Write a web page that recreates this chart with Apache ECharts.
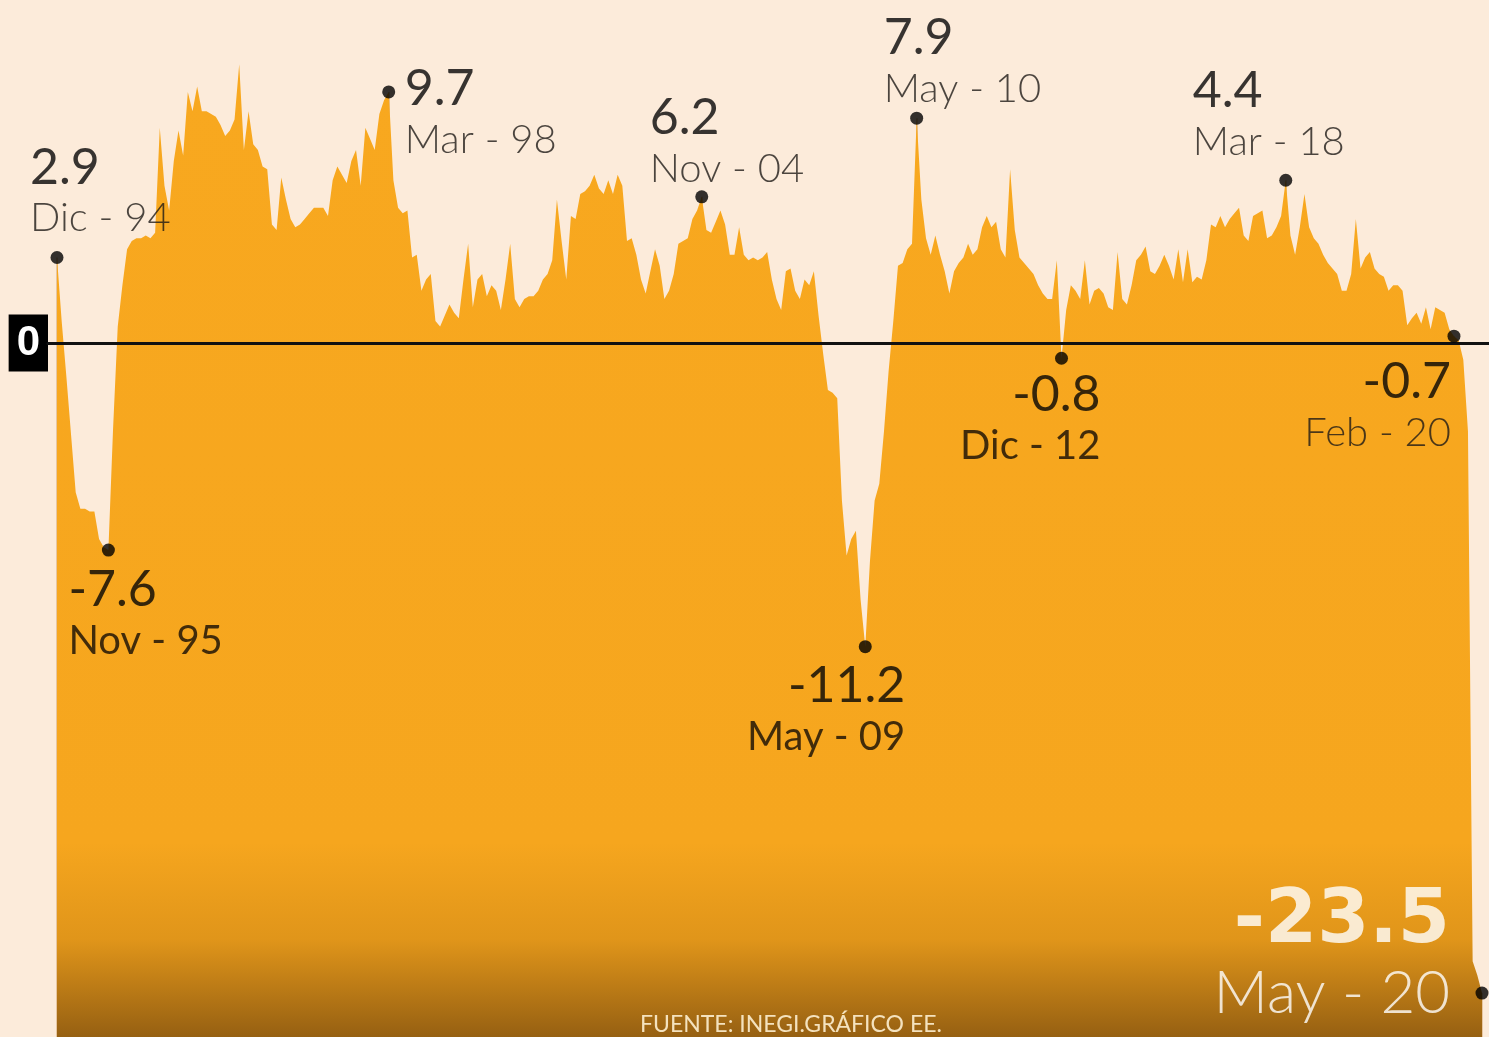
<!DOCTYPE html>
<html>
<head>
<meta charset="utf-8">
<script src="https://cdn.jsdelivr.net/npm/echarts@6/dist/echarts.min.js"></script>
<style>
  html, body { margin: 0; padding: 0; background: #FCEBDA; }
  #chart { width: 1489px; height: 1037px; }
</style>
</head>
<body>
<div id="chart"></div>
<script>
// Monthly annual variation (%), one value per month index (Dic-94 = 0 ... May-20 = 305)
const values = [
  3.1, 0.8, -1.2, -3.3, -5.4, -6.0, -6.0, -6.1, -6.1, -7.1,
  -7.4, -7.5, -3.1, 0.6, 2.1, 3.4, 3.7, 3.8, 3.8, 3.9,
  3.8, 4.0, 7.8, 5.7, 4.8, 6.6, 7.7, 6.8, 9.1, 8.4,
  9.3, 8.4, 8.4, 8.3, 8.2, 7.9, 7.5, 7.7, 8.1, 10.1,
  7.0, 8.4, 7.2, 7.0, 6.4, 6.3, 4.3, 4.1, 6.0, 5.2,
  4.5, 4.2, 4.3, 4.5, 4.7, 4.9, 4.9, 4.9, 4.6, 5.9,
  6.4, 6.1, 5.8, 6.6, 7.0, 5.7, 7.8, 7.4, 7.0, 8.3,
  8.8, 9.1, 5.9, 4.9, 4.7, 4.8, 3.1, 3.2, 1.9, 2.3,
  2.5, 0.8, 0.6, 1.0, 1.4, 1.1, 0.9, 2.3, 3.6, 1.3,
  2.3, 2.5, 1.7, 2.1, 1.9, 1.2, 2.3, 3.6, 1.6, 1.3,
  1.6, 1.7, 1.7, 1.9, 2.3, 2.5, 3.0, 5.2, 3.7, 2.3,
  4.6, 4.5, 5.4, 5.5, 5.7, 6.1, 5.6, 5.4, 5.9, 5.4,
  6.1, 5.7, 3.7, 3.8, 3.2, 2.3, 1.8, 2.6, 3.4, 2.8,
  1.6, 1.9, 2.5, 3.6, 3.7, 3.8, 4.5, 4.8, 5.3, 4.1,
  4.0, 4.4, 4.8, 4.3, 3.2, 3.2, 4.2, 3.2, 3.0, 3.1,
  3.0, 3.1, 3.3, 2.3, 1.6, 1.2, 2.6, 2.7, 1.9, 1.6,
  2.3, 2.1, 2.6, 1.0, -0.4, -1.7, -1.8, -2.0, -5.7, -7.7,
  -7.1, -6.8, -9.3, -11.0, -7.9, -5.7, -5.1, -3.2, -1.0, 0.8,
  2.8, 2.9, 3.4, 3.6, 8.15, 5.2, 3.8, 3.2, 3.9, 3.2,
  2.6, 1.8, 2.6, 2.9, 3.1, 3.6, 3.2, 3.4, 4.2, 4.6,
  4.2, 4.4, 3.4, 3.1, 6.3, 4.1, 3.1, 2.9, 2.7, 2.5,
  2.1, 1.8, 1.6, 1.6, 3.0, -0.55, 1.2, 2.1, 1.9, 1.6,
  3.0, 1.4, 1.9, 2.0, 1.8, 1.3, 1.2, 3.3, 1.6, 1.4,
  2.1, 3.0, 3.2, 3.5, 2.6, 2.5, 2.8, 3.2, 2.8, 2.3,
  3.4, 2.2, 3.4, 2.2, 2.4, 2.3, 3.0, 4.3, 4.2, 4.6,
  4.2, 4.5, 4.7, 4.9, 3.9, 3.7, 4.6, 4.7, 4.8, 3.8,
  3.9, 4.2, 4.6, 5.9, 3.9, 3.2, 4.2, 5.4, 4.2, 3.8,
  3.6, 3.2, 2.9, 2.7, 2.5, 1.9, 1.9, 2.5, 4.5, 2.7,
  3.1, 3.3, 2.7, 2.5, 2.4, 1.9, 2.1, 2.1, 1.9, 0.65,
  0.9, 1.1, 0.7, 1.3, 0.5, 1.3, 1.2, 1.1, 0.5, 0.25,
  0.1, -0.6, -3.2, -22.4, -22.9, -23.55
];

// Annotated points (month index where the dot sits in the picture), printed value and date
const annotIndex = [0, 11, 71, 138, 173, 184, 215, 263, 299, 305];
const annotValue = ['2.9', '-7.6', '9.7', '6.2', '-11.2', '7.9', '-0.8', '4.4', '-0.7', '-23.5'];
const annotDate  = ['Dic - 94', 'Nov - 95', 'Mar - 98', 'Nov - 04', 'May - 09', 'May - 10', 'Dic - 12', 'Mar - 18', 'Feb - 20', 'May - 20'];

// y-axis tick label shown (only zero)
const yTickLabels = [0];

const sourceText = 'FUENTE: INEGI.GRÁFICO EE.';

// ---- layout / style (kept apart from data) ----
const Y_MIN = -25.14, Y_MAX = 12.43;
const X_MIN = -1.926, X_MAX = 306.5;

// label placement per annotation: [dx, dy, align, verticalAlign, styleSet]
const placement = [
  [-27, -116, 'left', 'top', 'up'],
  [-40, 14, 'left', 'top', 'down'],
  [16, -29, 'left', 'top', 'up'],
  [-52, -105, 'left', 'top', 'up'],
  [40, 13, 'right', 'top', 'down'],
  [-33, -106, 'left', 'top', 'up'],
  [39, 11, 'right', 'top', 'down'],
  [-93, -115, 'left', 'top', 'up'],
  [-3, 20, 'right', 'top', 'upr'],
  [-32, -111, 'right', 'top', 'big']
];

const FONT = 'Lato, "Open Sans", sans-serif';
const rich = {
  n:  { fontFamily: FONT, fontSize: 50, lineHeight: 52, color: '#050505', fontWeight: 'normal' },
  d:  { fontFamily: FONT, fontSize: 40, lineHeight: 50, color: '#1e1a17', fontWeight: 300 },
  dd: { fontFamily: FONT, fontSize: 40, lineHeight: 50, color: '#140d05', fontWeight: 400 },
  nb: { fontFamily: '"DejaVu Sans", sans-serif', fontSize: 75, lineHeight: 80, color: '#ffffff', fontWeight: 'bold' },
  db: { fontFamily: FONT, fontSize: 60, lineHeight: 64, color: '#ffffff', fontWeight: 300 }
};

function labelText(k) {
  const set = placement[k][4];
  if (set === 'big') return '{nb|' + annotValue[k] + '}\n{db|' + annotDate[k] + '}';
  if (set === 'down') return '{n|' + annotValue[k] + '}\n{dd|' + annotDate[k] + '}';
  return '{n|' + annotValue[k] + '}\n{d|' + annotDate[k] + '}';
}

const lineData = values.map((v, i) => [i, v]);

const dotData = annotIndex.map((idx, k) => ({
  value: [idx, values[idx]],
  label: {
    show: true,
    position: 'inside',
    align: placement[k][2],
    verticalAlign: placement[k][3],
    offset: [placement[k][0], placement[k][1]],
    formatter: labelText(k),
    rich: rich
  }
}));

const guideLines = annotIndex.map(idx => [
  { coord: [idx, values[idx]] },
  { coord: [idx, Y_MIN] }
]);

const chart = echarts.init(document.getElementById('chart'), null, { renderer: 'canvas' });
chart.setOption({
  backgroundColor: '#FCEBDA',
  animation: false,
  title: {
    text: sourceText,
    left: 635,
    top: 1008,
    textStyle: { color: '#F4E2BE', fontSize: 23, fontWeight: 'normal', fontFamily: FONT }
  },
  grid: { left: 48, right: 0, top: 0, bottom: 0, containLabel: false },
  xAxis: {
    type: 'value',
    min: X_MIN,
    max: X_MAX,
    z: 3,
    axisLine: { show: true, onZero: true, lineStyle: { color: '#111111', width: 3 } },
    axisTick: { show: false },
    axisLabel: { show: false },
    splitLine: { show: false }
  },
  yAxis: {
    type: 'value',
    min: Y_MIN,
    max: Y_MAX,
    axisLine: { show: false },
    axisTick: { show: false },
    splitLine: { show: false },
    axisLabel: {
      show: true,
      customValues: yTickLabels,
      formatter: v => String(Math.round(v)),
      margin: 0,
      color: '#ffffff',
      backgroundColor: '#000000',
      fontFamily: '"Liberation Sans", Arial, sans-serif',
      fontWeight: 'bold',
      fontSize: 42,
      lineHeight: 45,
      padding: [6, 8, 6, 8]
    }
  },
  series: [
    {
      type: 'line',
      data: lineData,
      showSymbol: false,
      symbol: 'none',
      silent: true,
      z: 2,
      lineStyle: { width: 0, opacity: 0 },
      areaStyle: {
        origin: 'start',
        opacity: 1,
        color: new echarts.graphic.LinearGradient(0, 0, 0, 1, [
          { offset: 0, color: '#F8A81F' },
          { offset: 0.8, color: '#F6A61E' },
          { offset: 0.9, color: '#E0951A' },
          { offset: 1, color: '#966012' }
        ])
      }
    },
    {
      type: 'scatter',
      data: dotData,
      symbol: 'circle',
      symbolSize: 13,
      z: 5,
      silent: true,
      itemStyle: { color: '#000000' },
      markLine: {
        silent: true,
        symbol: ['none', 'none'],
        label: { show: false },
        lineStyle: { color: 'rgba(170,95,0,0.35)', width: 1.5, type: 'solid' },
        data: guideLines,
        z: 1
      }
    }
  ]
});
</script>
</body>
</html>
